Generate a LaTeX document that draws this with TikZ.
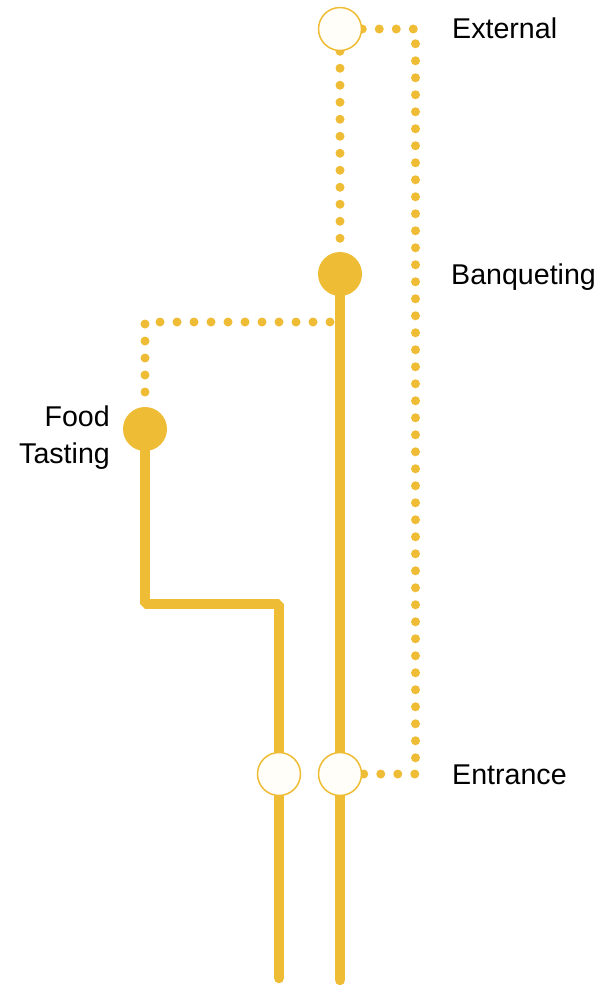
\documentclass[tikz,border=0pt]{standalone}
\usepackage{fontspec}
\setmainfont{Liberation Sans}
\usepackage{tikz}
\usetikzlibrary{calc}
\usepackage{xcolor}
\definecolor{lineyellow}{RGB}{239,188,53}
\definecolor{stopwhite}{RGB}{255,254,248}
\pgfdeclarelayer{fundo}
\pgfsetlayers{fundo,main}
\tikzset{
    trilho/.style={draw=lineyellow, line width=10.5pt, line cap=round, line join=bevel},
    pontilhado/.style={draw=lineyellow, line width=9pt, line cap=round, dash pattern=on 0pt off 17pt},
    paragem/.style={circle, minimum size=43pt, inner sep=0pt, draw=lineyellow, line width=1.5pt, fill=stopwhite},
    estacao/.style={circle, minimum size=44pt, inner sep=0pt, fill=lineyellow},
    rotulo/.style={font=\fontsize{28.6}{37}\selectfont, inner sep=0pt, text=black}
}

\begin{document}
\begin{tikzpicture}[x=1pt, y=-1pt]
    \useasboundingbox (0,0) rectangle (605,985);

    % Paragens
    \node[paragem] (ext) at (340,29) {};
    \node[estacao] (banq) at (340,274) {};
    \node[estacao] (food) at (145,429) {};
    \node[paragem] (entL) at (279,774) {};
    \node[paragem] (entR) at (340,774) {};

    % Pontos de passagem
    \coordinate (extTurn) at (415.5,29);
    \coordinate (entTurn) at (415.5,774);
    \coordinate (ramoStart) at (330,322);
    \coordinate (ramoTurn) at (145,322);
    \coordinate (foodTurn) at (145,604);
    \coordinate (entLTurn) at (279,604);
    \coordinate (endL) at (279,978);
    \coordinate (endR) at (340,980);

    \begin{pgfonlayer}{fundo}
    % Linhas cheias
    \draw[trilho] (food.center) -- (foodTurn) -- (entLTurn) -- (entL.center) -- (endL);
    \draw[trilho] (banq.center) -- (entR.center) -- (endR);

    % Linhas pontilhadas
    \draw[pontilhado] (ext.east) -- (extTurn) -- (entTurn) -- (entR.east);
    \draw[pontilhado] (ext.south) -- (banq.north);
    \draw[pontilhado] (ramoStart) -- (ramoTurn) -- (food.north);
    \end{pgfonlayer}

    % Nomes
    \node[rotulo, anchor=base west] (extLabel) at (452,38) {External};
    \node[rotulo, anchor=base west] (banqLabel) at (451,284) {Banqueting};
    \node[rotulo, anchor=base west] (entLabel) at (452,784) {Entrance};
    \node[rotulo, anchor=east, align=right] (foodLabel) at (110,438) {Food\\Tasting};
\end{tikzpicture}
\end{document}
